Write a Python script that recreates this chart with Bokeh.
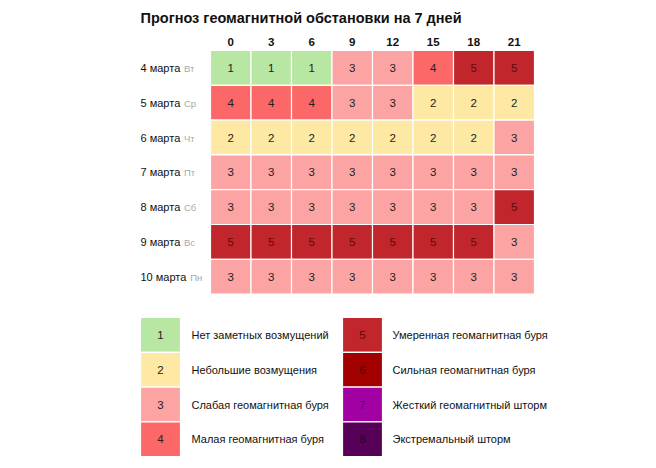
from bokeh.plotting import figure
from bokeh.models import ColumnDataSource, Range1d
from bokeh.core.properties import value
from bokeh.embed import file_html
from bokeh.resources import INLINE

title = "Прогноз геомагнитной обстановки на 7 дней"
hours = ["0", "3", "6", "9", "12", "15", "18", "21"]
days = ["4 марта", "5 марта", "6 марта", "7 марта", "8 марта", "9 марта", "10 марта"]
weekdays = ["Вт", "Ср", "Чт", "Пт", "Сб", "Вс", "Пн"]
kp = [
    [1, 1, 1, 3, 3, 4, 5, 5],
    [4, 4, 4, 3, 3, 2, 2, 2],
    [2, 2, 2, 2, 2, 2, 2, 3],
    [3, 3, 3, 3, 3, 3, 3, 3],
    [3, 3, 3, 3, 3, 3, 3, 5],
    [5, 5, 5, 5, 5, 5, 5, 3],
    [3, 3, 3, 3, 3, 3, 3, 3],
]
levels = [1, 2, 3, 4, 5, 6, 7, 8]
level_names = [
    "Нет заметных возмущений",
    "Небольшие возмущения",
    "Слабая геомагнитная буря",
    "Малая геомагнитная буря",
    "Умеренная геомагнитная буря",
    "Сильная геомагнитная буря",
    "Жесткий геомагнитный шторм",
    "Экстремальный шторм",
]
level_colors = ["#b8e6a3", "#fde9a3", "#fca4a4", "#fc6868", "#c0262c", "#a30000", "#a300a3", "#560057"]
level_text_colors = ["#222222", "#222222", "#222222", "#222222", "#5e0c0c", "#5a0000", "#5a005a", "#2a002a"]

# layout (pixel space)
W, H = 656, 468
gx0, gy0 = 210.0, 50.0
cw, ch = 40.5, 34.8
FONT = "Liberation Sans"

p = figure(width=W, height=H, output_backend="svg", toolbar_location=None,
           x_range=Range1d(0, W), y_range=Range1d(H, 0), min_border=0)
p.axis.visible = False
p.grid.visible = False
p.outline_line_color = None
p.background_fill_color = "white"

# heatmap cells
cells = dict(l=[], r=[], t=[], b=[], c=[], tx=[], ty=[], txt=[], tc=[])
for j, row in enumerate(kp):
    for i, v in enumerate(row):
        cells["l"].append(gx0 + i * cw)
        cells["r"].append(gx0 + (i + 1) * cw)
        cells["t"].append(gy0 + j * ch)
        cells["b"].append(gy0 + (j + 1) * ch)
        cells["c"].append(level_colors[v - 1])
        cells["tx"].append(gx0 + (i + 0.5) * cw)
        cells["ty"].append(gy0 + (j + 0.5) * ch)
        cells["txt"].append(str(v))
        cells["tc"].append(level_text_colors[v - 1])
src = ColumnDataSource(cells)
p.quad(left="l", right="r", top="t", bottom="b", fill_color="c", line_color="white",
       line_width=1.2, source=src)
p.text(x="tx", y="ty", text="txt", text_color="tc", text_font=value(FONT),
       text_font_size="11.5px", text_align="center", text_baseline="middle", source=src)

# column headers
p.text(x=[gx0 + (i + 0.5) * cw for i in range(len(hours))], y=[gy0 - 9] * len(hours),
       text=hours, text_font=value(FONT), text_font_size="11.5px", text_font_style="bold",
       text_color="#111111", text_align="center", text_baseline="middle")

# row labels
p.text(x=[140] * len(days), y=[gy0 + (j + 0.5) * ch for j in range(len(days))], text=days,
       text_font=value(FONT), text_font_size="11px", text_color="#111111",
       text_align="left", text_baseline="middle")
p.text(x=[183.5 + 6.2 * (len(d) - 7) for d in days],
       y=[gy0 + (j + 0.5) * ch + 0.5 for j in range(len(days))], text=weekdays,
       text_font=value(FONT), text_font_size="9.5px", text_color="#a8a8a8",
       text_align="left", text_baseline="middle")

# title
p.text(x=[140], y=[17], text=[title], text_font=value(FONT), text_font_size="14.5px",
       text_font_style="bold", text_color="#111111", text_align="left", text_baseline="middle")

# legend
lx = [140, 342]
ltx = [191, 392]
ly0, lh, lw = 317.0, 34.8, 40.0
leg = dict(l=[], r=[], t=[], b=[], c=[], tx=[], ty=[], txt=[], tc=[], nx=[], name=[])
for k, lev in enumerate(levels):
    col, rr = divmod(k, 4)
    leg["l"].append(lx[col])
    leg["r"].append(lx[col] + lw)
    leg["t"].append(ly0 + rr * lh)
    leg["b"].append(ly0 + (rr + 1) * lh)
    leg["c"].append(level_colors[k])
    leg["tx"].append(lx[col] + lw / 2)
    leg["ty"].append(ly0 + (rr + 0.5) * lh)
    leg["txt"].append(str(lev))
    leg["tc"].append(level_text_colors[k])
    leg["nx"].append(ltx[col])
    leg["name"].append(level_names[k])
lsrc = ColumnDataSource(leg)
p.quad(left="l", right="r", top="t", bottom="b", fill_color="c", line_color="white",
       line_width=1.2, source=lsrc)
p.text(x="tx", y="ty", text="txt", text_color="tc", text_font=value(FONT),
       text_font_size="11.5px", text_align="center", text_baseline="middle", source=lsrc)
p.text(x="nx", y="ty", text="name", text_color="#111111", text_font=value(FONT),
       text_font_size="11px", text_align="left", text_baseline="middle", source=lsrc)

open("out.html", "w").write(file_html(p, INLINE))
